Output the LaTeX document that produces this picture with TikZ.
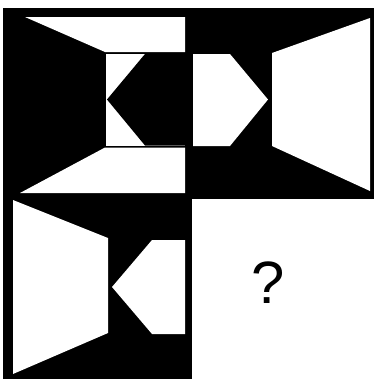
\documentclass[tikz,border=0pt]{standalone}
\usepackage{fontspec}
\setmainfont{Liberation Sans}
\begin{document}
\begin{tikzpicture}
[
	x=1bp, y=-1bp,
	panel/.style={fill=white},
	ink/.style={fill=black},
	asklabel/.style={inner sep=0pt,font=\fontsize{60}{62}\selectfont}
]
	\useasboundingbox (0,0) rectangle (377,379);
	\fill[white] (0,0) rectangle (377,379);

	% black ground and the empty cell
	\fill[ink] (3.5,7.5) rectangle (374,379);
	\fill[panel] (192,199) rectangle (377,379);

	% top left cell
	\fill[panel] (25,17) -- (185,17) -- (185,52) -- (105,52) -- cycle;
	\fill[panel] (106,54) rectangle (185,145.5);
	\fill[ink] (145,54) -- (185,54) -- (185,145.5) -- (145,145.5) -- (107,99.5) -- cycle;
	\fill[panel] (105,147.5) -- (185,147.5) -- (185,193) -- (20,193) -- cycle;

	% top right cell
	\fill[panel] (193,54) -- (230,54) -- (268,99.5) -- (230,146) -- (193,146) -- cycle;
	\fill[panel] (272,53) -- (370,18) -- (370,191) -- (272,146) -- cycle;

	% bottom left cell
	\fill[panel] (13,200) -- (108,238) -- (108,333) -- (13,374) -- cycle;
	\fill[panel] (152,240) -- (185,240) -- (185,334) -- (152,334) -- (112,287) -- cycle;

	% bottom right cell
	\node[asklabel] (ask) at (268,282.5) {?};

\end{tikzpicture}
\end{document}
